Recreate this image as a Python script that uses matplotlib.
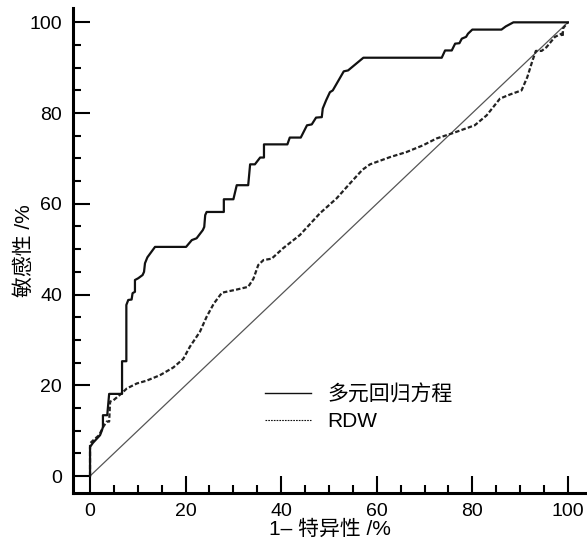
import matplotlib
matplotlib.use("Agg")
import matplotlib.pyplot as plt
from matplotlib.lines import Line2D
from matplotlib.ticker import MultipleLocator

plt.rcParams["font.family"] = ["Liberation Sans", "Noto Sans CJK SC", "DejaVu Sans"]

# ROC curve of the multivariable regression model (1-specificity %, sensitivity %)
model_fpr = [0, 0, 0.6, 2.1, 2.5, 2.7, 2.7, 3.6, 4.0, 6.7, 6.7, 7.6, 7.6, 8.0, 8.7,
             8.9, 9.4, 9.4, 10.1, 11.0, 11.3, 11.5, 12.0, 13.6, 20.1, 21.3, 22.3,
             23.6, 23.9, 24.1, 24.4, 28.0, 28.0, 30.0, 30.7, 33.1, 33.5, 34.5, 35.6,
             36.4, 36.4, 41.3, 41.8, 44.1, 45.4, 46.4, 47.3, 48.5, 48.7, 49.4, 50.2,
             50.8, 53.1, 54.0, 57.2, 73.6, 74.3, 75.7, 76.4, 77.3, 77.8, 78.7, 79.1,
             80.0, 86.1, 87.0, 88.6, 100]
model_tpr = [0, 6.4, 7.3, 9.0, 10.1, 10.8, 13.4, 13.4, 18.1, 18.1, 25.3, 25.3, 37.7,
             38.8, 38.9, 40.3, 40.6, 43.2, 43.6, 44.3, 45.0, 46.9, 48.2, 50.5, 50.5,
             52.0, 52.4, 54.2, 54.9, 57.5, 58.2, 58.2, 61.0, 61.0, 64.1, 64.1, 68.7,
             68.7, 70.2, 70.2, 73.1, 73.1, 74.6, 74.6, 77.3, 77.5, 79.0, 79.1, 81.0,
             82.8, 84.6, 85.0, 89.2, 89.4, 92.2, 92.2, 93.8, 93.8, 95.3, 95.4, 96.4,
             96.8, 97.5, 98.4, 98.4, 99.1, 100, 100]

# ROC curve of RDW
rdw_fpr = [0, 0, 0.7, 1.9, 2.8, 3.5, 4.0, 4.2, 4.9, 6.6, 7.7, 9.8, 11.8, 14.6, 17.4,
           19.5, 20.9, 23.0, 24.4, 25.9, 27.6, 30.7, 33.1, 34.2, 35.2, 36.3, 38.0,
           40.4, 43.9, 48.1, 51.6, 54.4, 57.0, 58.6, 62.8, 66.2, 69.7, 72.5, 75.7,
           80.5, 83.0, 85.8, 87.9, 90.3, 91.5, 92.6, 93.3, 94.5, 95.5, 97.3, 98.7,
           98.9, 99.0, 100]
rdw_tpr = [0, 7.2, 7.9, 9.0, 10.9, 12.0, 12.0, 16.4, 16.7, 18.2, 19.3, 20.4, 21.0,
           22.2, 23.9, 25.8, 28.5, 31.8, 35.1, 38.0, 40.4, 41.1, 41.7, 43.5, 46.5,
           47.6, 47.9, 50.2, 53.1, 57.9, 61.2, 64.5, 67.5, 68.7, 70.3, 71.4, 72.9,
           74.4, 75.5, 77.3, 79.5, 83.2, 84.1, 85.0, 87.9, 91.6, 93.7, 93.7, 94.5,
           96.8, 97.5, 96.8, 98.7, 100]

ref_line = [0, 100]
labels = ["多元回归方程", "RDW"]
ticks = [0, 20, 40, 60, 80, 100]

fig = plt.figure(figsize=(5.87, 5.44), dpi=100)
ax = fig.add_axes([0.1244, 0.0938, 0.8756, 0.891])

ax.plot(ref_line, ref_line, color="#555555", lw=0.9)
ax.plot(rdw_fpr, rdw_tpr, color="#222222", lw=1.6, linestyle=(0, (2, 1)))
ax.plot(model_fpr, model_tpr, color="#111111", lw=1.6)

ax.set_xlim(-3.56, 104.0)
ax.set_ylim(-3.74, 103.1)
ax.set_xticks(ticks)
ax.set_yticks(ticks)
ax.xaxis.set_minor_locator(MultipleLocator(5))
ax.yaxis.set_minor_locator(MultipleLocator(5))
ax.tick_params(which="major", direction="in", length=12, width=1.5, labelsize=14, pad=8)
ax.tick_params(axis="x", which="major", pad=7)
ax.tick_params(which="minor", direction="in", length=6, width=1.5)

for side in ["top", "right"]:
    ax.spines[side].set_visible(False)
for side in ["left", "bottom"]:
    ax.spines[side].set_linewidth(2.2)

ax.set_xlabel("1– 特异性 /%", fontsize=15, labelpad=0)
ax.set_ylabel("敏感性 /%", fontsize=15, labelpad=-3)

handles = [Line2D([], [], color="#111111", lw=1.0),
           Line2D([], [], color="#111111", lw=0.8, linestyle=(0, (1.5, 1)))]
ax.legend(handles, labels, loc="upper left", bbox_to_anchor=(0.3735, 0.224),
          frameon=False, fontsize=15, borderpad=0, borderaxespad=0,
          handlelength=2.2, handletextpad=0.8, labelspacing=0.35)

fig.savefig("out.png", dpi=100)
